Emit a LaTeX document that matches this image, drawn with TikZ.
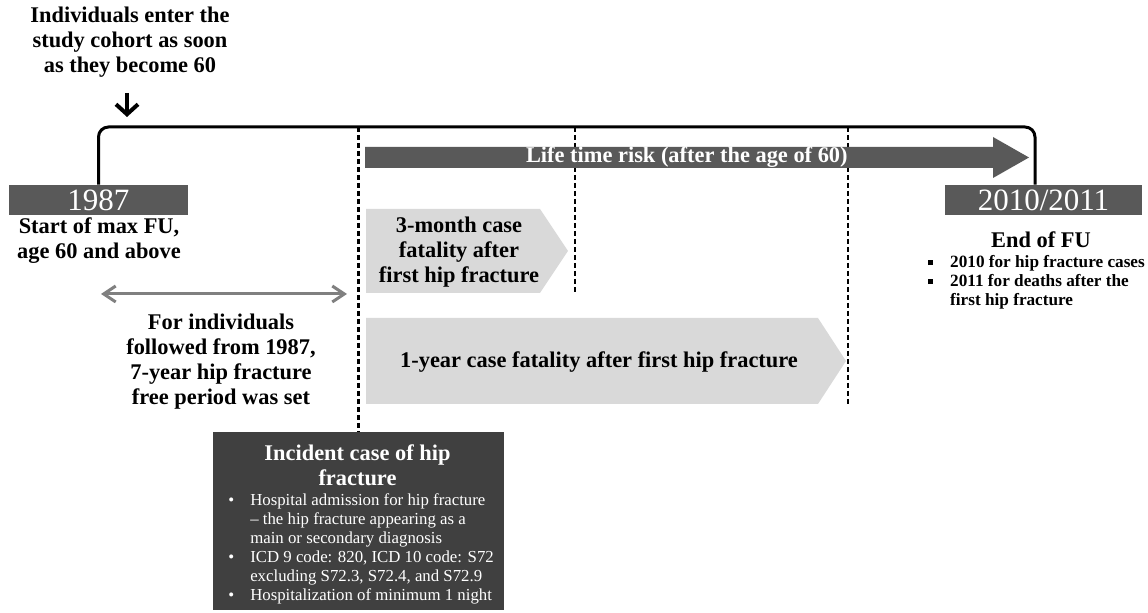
\documentclass[tikz,border=0pt]{standalone}
\usepackage{fontspec}
\setmainfont{Liberation Serif}
\usetikzlibrary{positioning,arrows.meta}
\definecolor{yeargray}{HTML}{595959}
\definecolor{casegray}{HTML}{404040}
\definecolor{periodgray}{HTML}{D9D9D9}
\definecolor{spangray}{HTML}{808080}
\newcommand\sqbullet{\rule[1.3pt]{2.4pt}{2.4pt}}
\tikzset{
  yearbox/.style={fill=yeargray,text=white,inner sep=0pt,minimum height=15pt,font=\fontsize{15.5}{15.5}\selectfont},
  boldtext/.style={font=\bfseries\fontsize{11.2}{12.5}\selectfont,align=center,inner sep=0pt},
  smalltext/.style={inner sep=0pt,anchor=west},
  cut/.style={line width=1.3pt,dash pattern=on 2.6pt off 1.4pt},
}
\begin{document}
\begin{tikzpicture}[x=0.5pt,y=-0.5pt]
  \useasboundingbox (0,0) rectangle (1148,613);
  % years and follow-up bracket
  \node[yearbox,minimum width=89.5pt] (yr87) at (98.5,200) {1987};
  \node[yearbox,minimum width=98.5pt] (yr10) at (1043.5,200) {2010/2011};
  \coordinate (bracketR) at (1035,127);
  \draw[line width=1.5pt,rounded corners=5pt] (yr87.north) |- (bracketR) -- (bracketR |- yr10.north);
  \node[boldtext] (cohort) at (130,42.5) {Individuals enter the\\study cohort as soon\\as they become 60};
  \coordinate (entry) at (127,93);
  \draw[line width=2pt,-{Straight Barb[length=5pt,width=11pt]}] (entry) -- (entry |- 0,117);
  \node[boldtext] (start) at (99,241) {Start of max FU,\\age 60 and above};
  \node[boldtext] (endfu) at (1041,240) {End of FU};
  \node[smalltext,font=\bfseries\fontsize{8.6}{9.5}\selectfont] (endlist) at (928,283) {%
    \begin{tabular}{@{}l@{\hspace{8.5pt}}l@{}}
      \sqbullet & 2010 for hip fracture cases\\
      \sqbullet & 2011 for deaths after the\\
                & first hip fracture
    \end{tabular}};
  % incident case
  \node[fill=casegray,minimum width=145.5pt,minimum height=89pt,inner sep=0pt] (incident) at (358.5,521.5) {};
  \node[boldtext,text=white] (inctitle) at (357.5,465.5) {Incident case of hip\\fracture};
  \node[smalltext,text=white,font=\fontsize{8.4}{9.5}\selectfont] (inclist) at (228,549) {%
    \begin{tabular}{@{}l@{\hspace{8pt}}l@{}}
      \textbullet & Hospital admission for hip fracture\\
                  & -- the hip fracture appearing as a\\
                  & main or secondary diagnosis\\
      \textbullet & ICD 9 code: 820, ICD 10 code: S72\\
                  & excluding S72.3, S72.4, and S72.9\\
      \textbullet & Hospitalization of minimum 1 night
    \end{tabular}};
  % cut-off lines
  \coordinate (cut3m) at (575,293);
  \coordinate (cut1y) at (848,405);
  \draw[cut] (incident.north |- bracketR) -- (incident.north);
  \draw[cut] (cut3m |- bracketR) -- (cut3m);
  \draw[cut] (cut1y |- bracketR) -- (cut1y);
  % risk periods
  \fill[yeargray] (365,147) -- (993,147) -- (993,137) -- (1029,157.5) -- (993,178) -- (993,168) -- (365,168) -- cycle;
  \node[boldtext,text=white,anchor=east] (lifetext) at (848,157) {Life time risk (after the age of 60)};
  \fill[periodgray] (366,209) -- (540,209) -- (568,251) -- (540,293) -- (366,293) -- cycle;
  \node[boldtext] (threemonth) at (459,252) {3-month case\\fatality after\\first hip fracture};
  \fill[periodgray] (366,318) -- (818,318) -- (846,361) -- (818,404) -- (366,404) -- cycle;
  \node[boldtext] (oneyear) at (599,362) {1-year case fatality after first hip fracture};
  % hip fracture free period
  \coordinate (freeL) at (101,294);
  \coordinate (freeR) at (347,294);
  \draw[spangray,line width=1.5pt,{Straight Barb[length=6pt,width=8pt]}-{Straight Barb[length=6pt,width=8pt]}] (freeL) -- (freeR);
  \node[boldtext] (freeperiod) at (221,361.5) {For individuals\\followed from 1987,\\7-year hip fracture\\free period was set};
\end{tikzpicture}
\end{document}
